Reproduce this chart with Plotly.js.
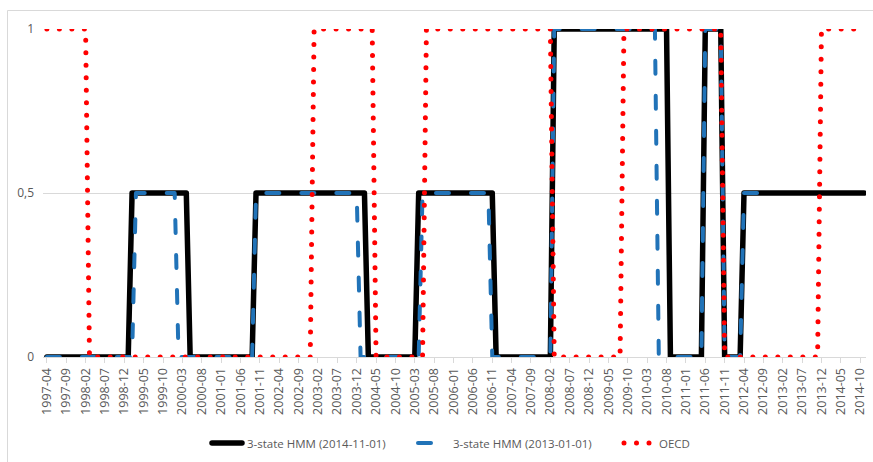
<!DOCTYPE html>
<html>
<head>
<meta charset="utf-8">
<script src="https://cdn.plot.ly/plotly-3.0.1.min.js"></script>
<style>
html,body{margin:0;padding:0;background:#fff;}
#chart{width:873px;height:462px;}
.js-line, .legendlines path{stroke-linecap:round;stroke-linejoin:round;}
</style>
</head>
<body>
<div id="chart"></div>
<script>
// Monthly categories (1997-04 .. 2014-11)
var months = [
"1997-04","1997-05","1997-06","1997-07","1997-08","1997-09","1997-10","1997-11","1997-12",
"1998-01","1998-02","1998-03","1998-04","1998-05","1998-06","1998-07","1998-08","1998-09","1998-10","1998-11","1998-12",
"1999-01","1999-02","1999-03","1999-04","1999-05","1999-06","1999-07","1999-08","1999-09","1999-10","1999-11","1999-12",
"2000-01","2000-02","2000-03","2000-04","2000-05","2000-06","2000-07","2000-08","2000-09","2000-10","2000-11","2000-12",
"2001-01","2001-02","2001-03","2001-04","2001-05","2001-06","2001-07","2001-08","2001-09","2001-10","2001-11","2001-12",
"2002-01","2002-02","2002-03","2002-04","2002-05","2002-06","2002-07","2002-08","2002-09","2002-10","2002-11","2002-12",
"2003-01","2003-02","2003-03","2003-04","2003-05","2003-06","2003-07","2003-08","2003-09","2003-10","2003-11","2003-12",
"2004-01","2004-02","2004-03","2004-04","2004-05","2004-06","2004-07","2004-08","2004-09","2004-10","2004-11","2004-12",
"2005-01","2005-02","2005-03","2005-04","2005-05","2005-06","2005-07","2005-08","2005-09","2005-10","2005-11","2005-12",
"2006-01","2006-02","2006-03","2006-04","2006-05","2006-06","2006-07","2006-08","2006-09","2006-10","2006-11","2006-12",
"2007-01","2007-02","2007-03","2007-04","2007-05","2007-06","2007-07","2007-08","2007-09","2007-10","2007-11","2007-12",
"2008-01","2008-02","2008-03","2008-04","2008-05","2008-06","2008-07","2008-08","2008-09","2008-10","2008-11","2008-12",
"2009-01","2009-02","2009-03","2009-04","2009-05","2009-06","2009-07","2009-08","2009-09","2009-10","2009-11","2009-12",
"2010-01","2010-02","2010-03","2010-04","2010-05","2010-06","2010-07","2010-08","2010-09","2010-10","2010-11","2010-12",
"2011-01","2011-02","2011-03","2011-04","2011-05","2011-06","2011-07","2011-08","2011-09","2011-10","2011-11","2011-12",
"2012-01","2012-02","2012-03","2012-04","2012-05","2012-06","2012-07","2012-08","2012-09","2012-10","2012-11","2012-12",
"2013-01","2013-02","2013-03","2013-04","2013-05","2013-06","2013-07","2013-08","2013-09","2013-10","2013-11","2013-12",
"2014-01","2014-02","2014-03","2014-04","2014-05","2014-06","2014-07","2014-08","2014-09","2014-10","2014-11"
];

// 3-state HMM (2014-11-01)
var hmm2014 = [
0,0,0,0,0,0,0,0,0,
0,0,0,0,0,0,0,0,0,0,0,0,
0,0.5,0.5,0.5,0.5,0.5,0.5,0.5,0.5,0.5,0.5,0.5,
0.5,0.5,0.5,0.5,0,0,0,0,0,0,0,0,
0,0,0,0,0,0,0,0,0,0.5,0.5,0.5,
0.5,0.5,0.5,0.5,0.5,0.5,0.5,0.5,0.5,0.5,0.5,0.5,
0.5,0.5,0.5,0.5,0.5,0.5,0.5,0.5,0.5,0.5,0.5,0.5,
0.5,0.5,0,0,0,0,0,0,0,0,0,0,
0,0,0,0.5,0.5,0.5,0.5,0.5,0.5,0.5,0.5,0.5,
0.5,0.5,0.5,0.5,0.5,0.5,0.5,0.5,0.5,0.5,0.5,0,
0,0,0,0,0,0,0,0,0,0,0,0,
0,0,1,1,1,1,1,1,1,1,1,1,
1,1,1,1,1,1,1,1,1,1,1,1,
1,1,1,1,1,1,1,1,0,0,0,0,
0,0,0,0,0,1,1,1,1,1,0,0,
0,0,0,0.5,0.5,0.5,0.5,0.5,0.5,0.5,0.5,0.5,
0.5,0.5,0.5,0.5,0.5,0.5,0.5,0.5,0.5,0.5,0.5,0.5,
0.5,0.5,0.5,0.5,0.5,0.5,0.5,0.5,0.5,0.5,0.5
];

// 3-state HMM (2013-01-01)  (ends 2013-01)
var hmm2013 = [
0,0,0,0,0,0,0,0,0,
0,0,0,0,0,0,0,0,0,0,0,0,
0,0,0.5,0.5,0.5,0.5,0.5,0.5,0.5,0.5,0.5,0.5,
0.5,0,0,0,0,0,0,0,0,0,0,0,
0,0,0,0,0,0,0,0,0,0.5,0.5,0.5,
0.5,0.5,0.5,0.5,0.5,0.5,0.5,0.5,0.5,0.5,0.5,0.5,
0.5,0.5,0.5,0.5,0.5,0.5,0.5,0.5,0.5,0.5,0.5,0.5,
0,0,0,0,0,0,0,0,0,0,0,0,
0,0,0,0,0.5,0.5,0.5,0.5,0.5,0.5,0.5,0.5,
0.5,0.5,0.5,0.5,0.5,0.5,0.5,0.5,0.5,0.5,0,0,
0,0,0,0,0,0,0,0,0,0,0,0,
0,0,1,1,1,1,1,1,1,1,1,1,
1,1,1,1,1,1,1,1,1,1,1,1,
1,1,1,1,1,0,0,0,0,0,0,0,
0,0,0,0,0,1,1,1,1,1,0,0,
0,0,0,0.5,0.5,0.5,0.5,0.5,0.5,0.5,0.5,0.5,
0.5
];

// OECD
var oecd = [
1,1,1,1,1,1,1,1,1,
1,1,0,0,0,0,0,0,0,0,0,0,
0,0,0,0,0,0,0,0,0,0,0,0,
0,0,0,0,0,0,0,0,0,0,0,0,
0,0,0,0,0,0,0,0,0,0,0,0,
0,0,0,0,0,0,0,0,0,0,0,0,
1,1,1,1,1,1,1,1,1,1,1,1,
1,1,1,1,0,0,0,0,0,0,0,0,
0,0,0,0,0,1,1,1,1,1,1,1,
1,1,1,1,1,1,1,1,1,1,1,1,
1,1,1,1,1,1,1,1,1,1,1,1,
1,1,0,0,0,0,0,0,0,0,0,0,
0,0,0,0,0,0,0,0,1,1,1,1,
1,1,1,1,1,1,1,1,1,1,1,1,
1,1,1,1,1,1,1,1,1,1,0,0,
0,0,0,0,0,0,0,0,0,0,0,0,
0,0,0,0,0,0,0,0,0,0,0,1,
1,1,1,1,1,1,1,1,1,1,1
];

var seriesNames = ["3-state HMM (2014-11-01)", "3-state HMM (2013-01-01)", "OECD"];

var xTickLabels = ["1997-04","1997-09","1998-02","1998-07","1998-12","1999-05","1999-10","2000-03","2000-08","2001-01","2001-06","2001-11","2002-04","2002-09","2003-02","2003-07","2003-12","2004-05","2004-10","2005-03","2005-08","2006-01","2006-06","2006-11","2007-04","2007-09","2008-02","2008-07","2008-12","2009-05","2009-10","2010-03","2010-08","2011-01","2011-06","2011-11","2012-04","2012-09","2013-02","2013-07","2013-12","2014-05","2014-10"];
var yTickVals = [0, 0.5, 1];
var yTickText = ["0", "0,5", "1"];

var textColor = "#595959";
var fontFam = "'Open Sans', sans-serif";

var traces = [
  {x: months, y: hmm2014, name: seriesNames[0], type: "scatter", mode: "lines",
   line: {color: "#000000", width: 5.5}, cliponaxis: false},
  {x: months.slice(0, hmm2013.length), y: hmm2013, name: seriesNames[1], type: "scatter", mode: "lines",
   line: {color: "#2173B8", width: 4, dash: "13px,22px"}, cliponaxis: false},
  {x: months, y: oecd, name: seriesNames[2], type: "scatter", mode: "lines",
   line: {color: "#FF0000", width: 5, dash: "0px,12.5px"}, cliponaxis: false}
];

var L = 43, R = 7, T = 29, B = 105, W = 873, H = 462;
var pw = W - L - R, ph = H - T - B;
function px2paperX(px){ return (px - L) / pw; }
function px2paperY(py){ return (H - B - py) / ph; }

var layout = {
  width: W, height: H,
  margin: {l: L, r: R, t: T, b: B, pad: 0, autoexpand: false},
  paper_bgcolor: "#ffffff", plot_bgcolor: "#ffffff",
  font: {family: fontFam, color: textColor, size: 12},
  showlegend: true,
  legend: {orientation: "h", x: px2paperX(207), xanchor: "left", y: px2paperY(443), yanchor: "middle",
           font: {family: fontFam, size: 11.5, color: textColor}, entrywidth: 161, bgcolor: "rgba(0,0,0,0)"},
  xaxis: {type: "category", categoryorder: "array", categoryarray: months,
          range: [-1, months.length - 0.5], tickmode: "array", tickvals: xTickLabels, ticktext: xTickLabels,
          tickangle: -90, ticks: "outside", ticklen: 5, tickcolor: "#D9D9D9", tickwidth: 1,
          showgrid: false, zeroline: false, showline: true, linecolor: "#D9D9D9", linewidth: 1,
          tickfont: {family: fontFam, size: 12.5, color: textColor}, fixedrange: true},
  yaxis: {range: [0, 1], tickmode: "array", tickvals: yTickVals, ticktext: yTickText,
          showgrid: true, gridcolor: "#D9D9D9", gridwidth: 1, zeroline: false, showline: false,
          ticks: "", ticklabelstandoff: 8,
          tickfont: {family: fontFam, size: 12, color: textColor}, fixedrange: true},
  shapes: [
    {type: "line", xref: "paper", yref: "paper", x0: px2paperX(7.5), x1: px2paperX(900), y0: px2paperY(10.5), y1: px2paperY(10.5),
     line: {color: "#D9D9D9", width: 1}, layer: "below"},
    {type: "line", xref: "paper", yref: "paper", x0: px2paperX(7.5), x1: px2paperX(7.5), y0: px2paperY(10.5), y1: px2paperY(480),
     line: {color: "#D9D9D9", width: 1}, layer: "below"}
  ]
};

Plotly.newPlot("chart", traces, layout, {staticPlot: true, displayModeBar: false});
</script>
</body>
</html>
